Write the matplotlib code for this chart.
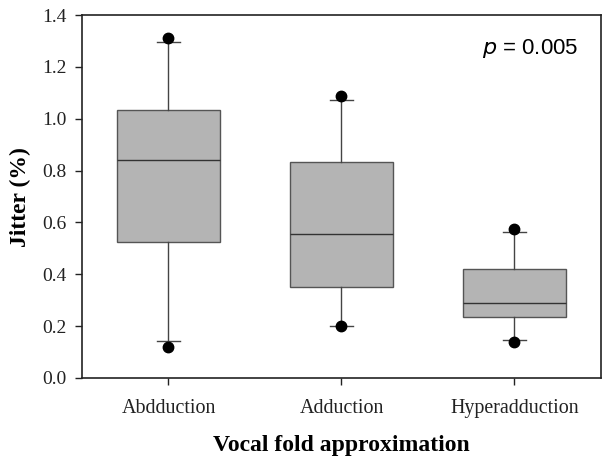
import matplotlib
matplotlib.use("Agg")
import matplotlib.pyplot as plt

categories = ["Abdduction", "Adduction", "Hyperadduction"]
q1 = [0.523, 0.351, 0.237]
medians = [0.842, 0.556, 0.289]
q3 = [1.035, 0.834, 0.421]
whislo = [0.143, 0.202, 0.146]
whishi = [1.294, 1.071, 0.563]
outliers = [[0.120, 1.313], [0.200, 1.088], [0.138, 0.575]]
yticks = [0.0, 0.2, 0.4, 0.6, 0.8, 1.0, 1.2, 1.4]
p_text = "0.005"

serif = ["Liberation Serif", "DejaVu Serif"]
sans = ["Liberation Sans", "DejaVu Sans"]

fig = plt.figure(figsize=(6.08, 4.63), dpi=100)
ax = fig.add_axes([82 / 608, 1 - 378 / 463, (601 - 82) / 608, (378 - 15) / 463])

stats = []
for i, c in enumerate(categories):
    stats.append(dict(label=c, q1=q1[i], med=medians[i], q3=q3[i],
                      whislo=whislo[i], whishi=whishi[i], fliers=outliers[i]))

ax.bxp(stats, positions=[1, 2, 3], widths=0.6, patch_artist=True,
       boxprops=dict(facecolor="#b4b4b4", edgecolor="#555555", linewidth=1.0),
       medianprops=dict(color="#333333", linewidth=1.0),
       whiskerprops=dict(color="#444444", linewidth=1.0),
       capprops=dict(color="#444444", linewidth=1.0),
       capwidths=0.13,
       flierprops=dict(marker="o", markerfacecolor="black", markeredgecolor="black",
                       markersize=7.5, linestyle="none"))

ax.set_xlim(0.5, 3.5)
ax.set_ylim(0, 1.4)
ax.set_yticks(yticks)
ax.set_yticklabels([f"{v:.1f}" for v in yticks], fontfamily=serif, fontsize=14, color="#222222")
ax.set_xticks([1, 2, 3])
ax.set_xticklabels(categories, fontfamily=serif, fontsize=14.4, color="#222222")
ax.tick_params(axis="both", direction="out", length=5, width=1, colors="#222222", labelcolor="#222222")
ax.tick_params(axis="x", pad=10)
ax.tick_params(axis="y", pad=6)
for s in ax.spines.values():
    s.set_linewidth(1.2)
    s.set_color("#222222")

fig.text(20 / 608, 1 - 197 / 463, "Jitter (%)", rotation=90, ha="center", va="center",
         fontfamily=serif, fontweight="bold", fontsize=17)
ax.set_xlabel("Vocal fold approximation", fontfamily=serif, fontweight="bold", fontsize=17, labelpad=12)

ax.text(0.956, 0.909, r"$\it{p}$ = " + p_text, transform=ax.transAxes, ha="right", va="center",
        fontsize=16, fontfamily=sans)

fig.savefig("out.png", dpi=100)
